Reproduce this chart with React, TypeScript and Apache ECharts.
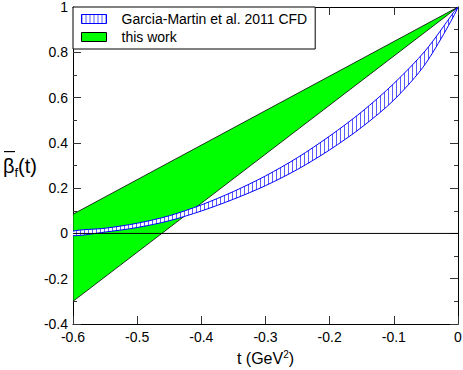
import React, { useEffect, useRef } from "react";
import * as echarts from "echarts";

// Garcia-Martin et al. 2011 CFD band
const cfdT = [-0.6, -0.55, -0.5, -0.45, -0.4, -0.35, -0.3, -0.25, -0.2, -0.15, -0.1, -0.05, 0];
const cfdUpper = [0.01, 0.023, 0.045, 0.078, 0.126, 0.185, 0.254, 0.335, 0.43, 0.537, 0.662, 0.81, 1];
const cfdLower = [-0.01, 0.006, 0.026, 0.056, 0.099, 0.151, 0.211, 0.283, 0.369, 0.469, 0.589, 0.752, 1];

// this work band
const workT = [-0.6, 0];
const workUpper = [0.085, 1];
const workLower = [-0.3, 1];

// zero reference line
const zeroT = [-0.6, 0];
const zeroV = [0, 0];

const seriesNames = ["Garcia-Martin et al. 2011 CFD", "this work"];

const FONT = "'Liberation Sans', Arial, Helvetica, sans-serif";

function makeHatch() {
  const c = document.createElement("canvas");
  c.width = 4;
  c.height = 4;
  const ctx = c.getContext("2d")!;
  ctx.fillStyle = "#ffffff";
  ctx.fillRect(0, 0, 4, 4);
  ctx.fillStyle = "#5a5aff";
  ctx.fillRect(0, 0, 1, 4);
  return c;
}

function bandRenderer(ts: number[], up: number[], lo: number[], style: any, smooth: number) {
  return (params: any, api: any) => {
    if (params.dataIndex !== 0) return null;
    const pts: number[][] = [];
    for (let i = 0; i < ts.length; i++) pts.push(api.coord([ts[i], up[i]]));
    const n = ts.length;
    // skip duplicated closing vertex where both edges meet
    const startLo = up[n - 1] === lo[n - 1] ? n - 2 : n - 1;
    for (let i = startLo; i >= 0; i--) pts.push(api.coord([ts[i], lo[i]]));
    return { type: "polygon", shape: { points: pts, smooth }, style };
  };
}

export default function App() {
  const ref = useRef<HTMLDivElement>(null);
  useEffect(() => {
    const chart = echarts.init(ref.current!, null, { renderer: "svg" });
    const hatch = { image: makeHatch(), repeat: "repeat" };
    const axisCommon = {
      axisLine: { show: true, onZero: false, lineStyle: { color: "#000", width: 1 } },
      axisTick: { show: true, inside: true, length: 8, lineStyle: { color: "#333" } },
      splitLine: { show: false },
    };
    const xCommon = { type: "value", min: -0.6, max: 0, interval: 0.1, ...axisCommon };
    const yCommon = {
      type: "value",
      min: -0.4,
      max: 1,
      interval: 0.2,
      ...axisCommon,
      minorTick: { show: true, splitNumber: 2, length: 4, lineStyle: { color: "#333" } },
    };
    chart.setOption({
      animation: false,
      backgroundColor: "#fff",
      grid: { left: 73, right: 5, top: 7, bottom: 46, outerBoundsMode: "none" },
      legend: {
        left: 73,
        top: 7,
        orient: "vertical",
        selectedMode: false,
        padding: [5, 8, 5, 8],
        itemGap: 4,
        itemWidth: 25,
        itemHeight: 9,
        backgroundColor: "#fff",
        borderColor: "#000",
        borderWidth: 1,
        borderRadius: 0,
        textStyle: { fontSize: 14, color: "#000", fontFamily: FONT, padding: [0, 0, 0, 10] },
        data: [
          {
            name: seriesNames[0],
            icon: "rect",
            itemStyle: { color: hatch, borderColor: "#0000ff", borderWidth: 1 },
          },
          {
            name: seriesNames[1],
            icon: "rect",
            itemStyle: { color: "#00ff00", borderColor: "#000", borderWidth: 1 },
          },
        ],
      },
      graphic: [
        {
          type: "rect",
          z: 100,
          shape: { x: 4, y: 151, width: 11, height: 1.2 },
          style: { fill: "#000" },
        },
      ],
      xAxis: [
        {
          ...xCommon,
          position: "bottom",
          axisLabel: { color: "#000", fontSize: 14, fontFamily: FONT, margin: 6 },
          name: "t (GeV{sup|2})",
          nameLocation: "middle",
          nameGap: 25,
          nameTextStyle: {
            color: "#000",
            fontSize: 16,
            fontFamily: FONT,
            rich: { sup: { fontSize: 10, fontFamily: FONT, color: "#000", verticalAlign: "top", padding: [0, 0, 9, 0] } },
          },
        },
        { ...xCommon, position: "top", axisLabel: { show: false } },
      ],
      yAxis: [
        {
          ...yCommon,
          position: "left",
          axisLabel: { color: "#000", fontSize: 14, fontFamily: FONT, margin: 5 },
          name: "{b|β}{s|f}{b|(t)}",
          nameLocation: "middle",
          nameRotate: 0,
          nameGap: 36,
          nameTextStyle: {
            color: "#000",
            fontFamily: FONT,
            rich: {
              b: { fontSize: 20, fontFamily: FONT, color: "#000" },
              s: { fontSize: 13, fontFamily: FONT, color: "#000", padding: [13, 0, 0, 0] },
            },
          },
        },
        { ...yCommon, position: "right", axisLabel: { show: false } },
      ],
      series: [
        {
          name: seriesNames[1],
          type: "custom",
          clip: true,
          data: workT.map((t, i) => [t, workUpper[i], workLower[i]]),
          encode: { x: 0, y: [1, 2] },
          itemStyle: { color: "#00ff00" },
          renderItem: bandRenderer(
            workT,
            workUpper,
            workLower,
            { fill: "#00ff00", stroke: "#000", lineWidth: 0.8 },
            0
          ),
          z: 2,
        },
        {
          name: seriesNames[0],
          type: "custom",
          clip: true,
          data: cfdT.map((t, i) => [t, cfdUpper[i], cfdLower[i]]),
          encode: { x: 0, y: [1, 2] },
          itemStyle: { color: "#0000ff" },
          renderItem: bandRenderer(
            cfdT,
            cfdUpper,
            cfdLower,
            { fill: hatch, stroke: "#0000ff", lineWidth: 1 },
            0.3
          ),
          z: 3,
        },
        {
          name: "zero",
          type: "line",
          data: zeroT.map((t, i) => [t, zeroV[i]]),
          symbol: "none",
          lineStyle: { color: "#000", width: 1 },
          z: 4,
        },
      ],
    });
    return () => chart.dispose();
  }, []);
  return (
    <div
      ref={ref}
      style={{ position: "fixed", left: 0, top: 0, width: 463, height: 370 }}
    />
  );
}
